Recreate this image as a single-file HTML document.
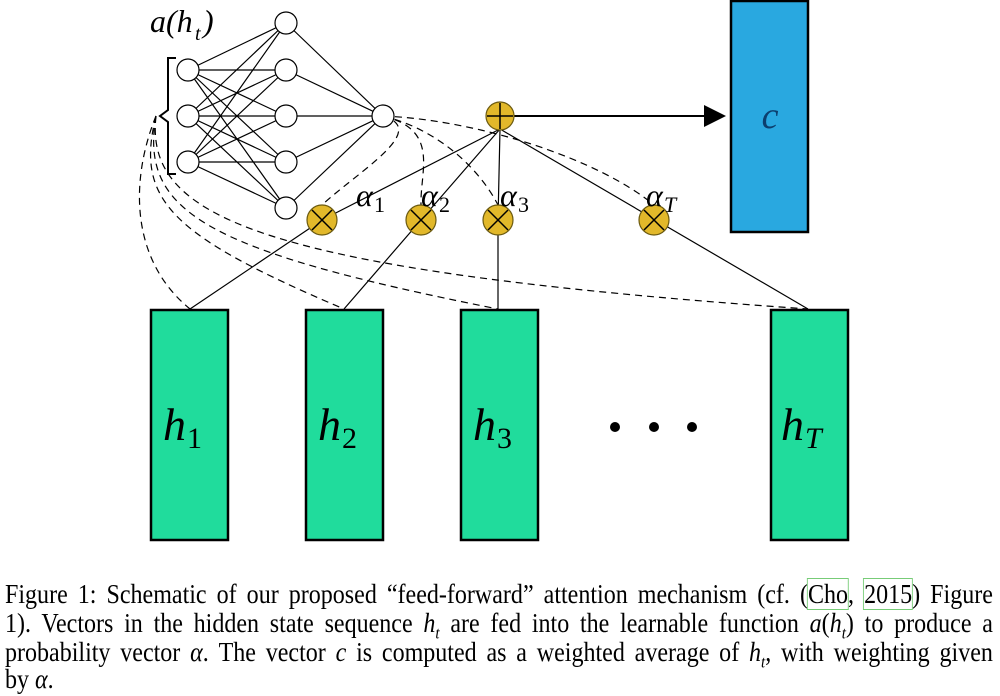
<!DOCTYPE html>
<html><head><meta charset="utf-8"><style>
body{margin:0;width:1000px;height:696px;background:#fff;overflow:hidden;position:relative;font-family:"Liberation Serif",serif}
.cap{position:absolute;left:5px;width:1110px;font-size:27px;line-height:29px;text-align:justify;text-align-last:justify;white-space:nowrap;letter-spacing:0px;transform:scaleX(0.89);transform-origin:0 0}
.m{font-style:italic}
sub{font-size:17px;line-height:0}
</style></head><body>
<svg width="1000" height="570" style="position:absolute;left:0;top:0" font-family="Liberation Serif, serif">
<g stroke="#000" stroke-width="1.2" fill="none" stroke-dasharray="7,5">
<path d="M156,116 C130,180 130,260 190,309"/>
<path d="M156,116 C135,200 170,235 344,309"/>
<path d="M156,116 C140,210 200,250 498,309"/>
<path d="M156,116 C145,215 250,270 808,309"/>
<path d="M383,116 C430,130 360,170 322,205"/>
<path d="M383,116 C440,130 420,170 421,205"/>
<path d="M383,116 C440,130 480,170 498,205"/>
<path d="M383,116 C480,120 600,160 654,205"/>
</g>
<g stroke="#000" stroke-width="1.2">
<path d="M188,70 L286,23 M188,70 L286,70 M188,70 L286,116 M188,70 L286,162 M188,70 L286,208
M188,116 L286,23 M188,116 L286,70 M188,116 L286,116 M188,116 L286,162 M188,116 L286,208
M188,162 L286,23 M188,162 L286,70 M188,162 L286,116 M188,162 L286,162 M188,162 L286,208
M286,23 L383,116 M286,70 L383,116 M286,116 L383,116 M286,162 L383,116 M286,208 L383,116"/>
<path d="M500,129 L322,220 M500,129 L421,220 M500,129 L498,220 M500,129 L808,309 M322,220 L190,309 M421,220 L344,309 M498,220 L498,309"/>
<path d="M513,116 L705,116" stroke-width="2"/>
</g>
<polygon points="704,105 726,116 704,127" fill="#000"/>
<path d="M176,58 L168,58 L168,110 L160,116 L168,122 L168,174 L176,174" stroke="#000" stroke-width="2" fill="none"/>
<g fill="#fff" stroke="#000" stroke-width="1.2">
<circle cx="188" cy="70" r="11"/><circle cx="188" cy="116" r="11"/><circle cx="188" cy="162" r="11"/>
<circle cx="286" cy="23" r="11"/><circle cx="286" cy="70" r="11"/><circle cx="286" cy="116" r="11"/><circle cx="286" cy="162" r="11"/><circle cx="286" cy="208" r="11"/>
<circle cx="383" cy="116" r="11"/>
</g>
<g fill="#e2b82a" stroke="#6b5a10" stroke-width="1.2">
<circle cx="500" cy="116" r="14"/>
<circle cx="322" cy="220" r="15"/><circle cx="421" cy="220" r="15"/><circle cx="498" cy="220" r="15"/><circle cx="654" cy="220" r="15"/>
</g>
<g stroke="#000" stroke-width="1.5">
<path d="M500,103 V129 M487,116 H513"/>
<path d="M312,210 L332,230 M332,210 L312,230 M411,210 L431,230 M431,210 L411,230 M488,210 L508,230 M508,210 L488,230 M644,210 L664,230 M664,210 L644,230"/>
</g>
<rect x="731" y="1" width="77" height="231" fill="#29a8e0" stroke="#000" stroke-width="2.5"/>
<text x="770" y="128" font-size="38" font-style="italic" text-anchor="middle" fill="#0c3f6e">c</text>
<g fill="#20dc9c" stroke="#000" stroke-width="2.5">
<rect x="151" y="310" width="77" height="230"/><rect x="306" y="310" width="77" height="230"/>
<rect x="461" y="310" width="77" height="230"/><rect x="771" y="310" width="77" height="230"/>
</g>
<g font-size="46" font-style="italic" fill="#000">
<text x="163" y="440">h</text><text x="187" y="448" font-size="30" font-style="normal">1</text>
<text x="318" y="440">h</text><text x="342" y="448" font-size="30" font-style="normal">2</text>
<text x="473" y="440">h</text><text x="497" y="448" font-size="30" font-style="normal">3</text>
<text x="781" y="440">h</text><text x="805" y="448" font-size="30">T</text>
</g>
<circle cx="615" cy="427" r="5"/><circle cx="654" cy="427" r="5"/><circle cx="692" cy="427" r="5"/>
<g font-size="32" font-style="italic">
<text x="150" y="32">a(h</text><text x="195" y="40" font-size="20">t</text><text x="203" y="32">)</text>
<text x="356" y="206">α</text><text x="374" y="212" font-size="22" font-style="normal">1</text>
<text x="421" y="206">α</text><text x="439" y="212" font-size="22" font-style="normal">2</text>
<text x="500" y="206">α</text><text x="518" y="212" font-size="22" font-style="normal">3</text>
<text x="646" y="206">α</text><text x="664" y="212" font-size="22">T</text>
</g>
</svg>
<div class="cap" style="top:580px">Figure 1: Schematic of our proposed “feed-forward” attention mechanism (cf. (<span style="outline:1px solid #7c7">Cho</span>, <span style="outline:1px solid #7c7">2015</span>) Figure</div>
<div class="cap" style="top:609px">1). Vectors in the hidden state sequence <span class="m">h<sub>t</sub></span> are fed into the learnable function <span class="m">a</span>(<span class="m">h<sub>t</sub></span>) to produce a</div>
<div class="cap" style="top:638px">probability vector <span class="m">α</span>. The vector <span class="m">c</span> is computed as a weighted average of <span class="m">h<sub>t</sub></span>, with weighting given</div>
<div class="cap" style="top:665px;text-align-last:left">by <span class="m">α</span>.</div>
</body></html>
